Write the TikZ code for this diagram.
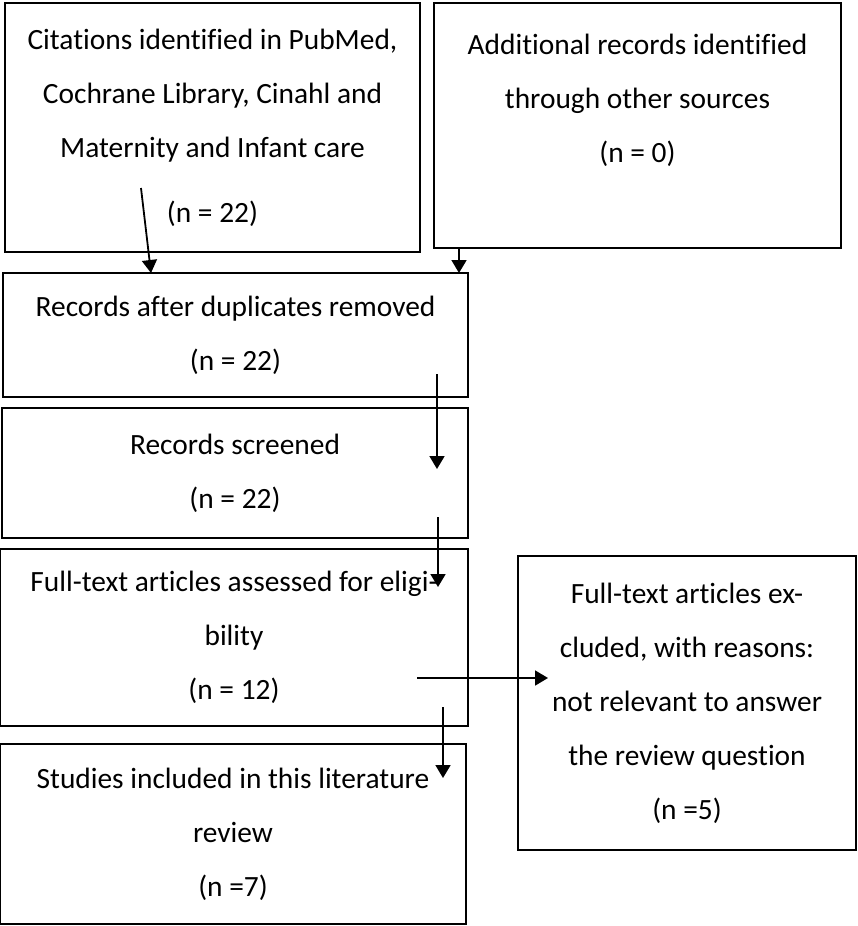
\documentclass[tikz,border=0pt]{standalone}
\usepackage{fontspec}
\setmainfont{Carlito}[Ligatures=CommonOff]
\usetikzlibrary{arrows.meta}
\tikzstyle{stagebox}=[
        draw,
        line width=1.2pt,
        inner sep=0pt,
        outer sep=0pt,
        align=center,
        font=\fontsize{14.7}{27}\selectfont
]
\tikzstyle{flow}=[
        line width=0.9pt,
        -{Triangle[width=7.5pt,length=6.5pt]}
]

\begin{document}
\begin{tikzpicture}[x=0.5pt,y=-0.5pt]
                        \useasboundingbox (0,0) rectangle (857,926);

                        \node[stagebox, minimum width=207.5pt, minimum height=124.5pt] (cites) at (212.5,127.5)
                            {Citations identified in PubMed,\\Cochrane Library, Cinahl and\\Maternity and Infant care\\[5.5pt](n = 22)};
                        \node[stagebox, minimum width=203.5pt, minimum height=122.5pt] (other) at (637.5,125.5)
                            {Additional records identified\\through other sources\\(n = 0)\\~};
                        \node[stagebox, minimum width=232.5pt, minimum height=62pt] (dedup) at (235.5,335)
                            {Records after duplicates removed\\(n = 22)};
                        \node[stagebox, minimum width=233pt, minimum height=65pt] (screened) at (235,473)
                            {Records screened\\(n = 22)};
                        \node[stagebox, minimum width=234pt, minimum height=88.5pt] (fulltext) at (234,637.5)
                            {Full-text articles assessed for eligi-\\bility\\(n = 12)};
                        \node[stagebox, minimum width=233pt, minimum height=90pt] (included) at (233,834)
                            {Studies included in this literature\\review\\(n =7)};
                        \node[stagebox, minimum width=169pt, minimum height=147pt] (excluded) at (687,703)
                            {Full-text articles ex-\\cluded, with reasons:\\not relevant to answer\\the review question\\(n =5)};

                        % free ends of the arrows
                        \coordinate (a0) at (141,188);
                        \coordinate (a1) at (151,0);
                        \coordinate (b0) at (459,0);
                        \coordinate (c0) at (437,374);
                        \coordinate (c1) at (437,469);
                        \coordinate (d0) at (438,517);
                        \coordinate (d1) at (438,587);
                        \coordinate (e0) at (443,707);
                        \coordinate (e1) at (443,778);
                        \coordinate (f0) at (417,678);
                        \coordinate (f1) at (548,678);

                        \draw[flow] (a0) -- (a1 |- dedup.north);
                        \draw[flow] (b0 |- other.south) -- (b0 |- dedup.north);
                        \draw[flow] (c0) -- (c1);
                        \draw[flow] (d0) -- (d1);
                        \draw[flow] (e0) -- (e1);
                        \draw[flow] (f0) -- (f1);

                    \end{tikzpicture}
\end{document}
